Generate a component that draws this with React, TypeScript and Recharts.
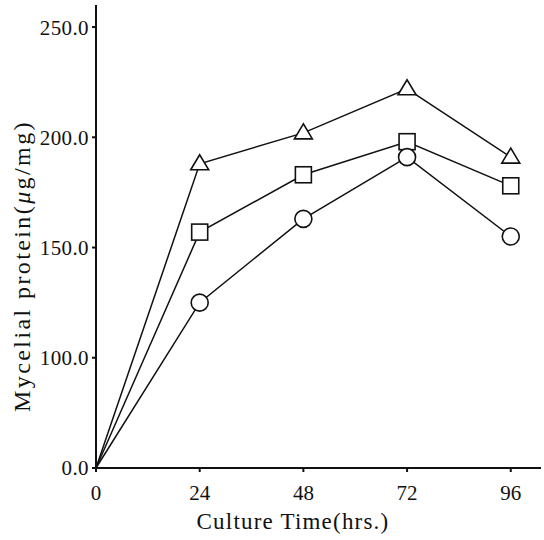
import { LineChart, Line, XAxis, YAxis, Label } from 'recharts';

const hours = [0, 24, 48, 72, 96];
const triangleSeries = [0, 188, 202, 222, 191];
const squareSeries = [0, 157, 183, 198, 178];
const circleSeries = [0, 125, 163, 191, 155];
const yTickValues = [0, 100, 150, 200, 250];
const xTickValues = [0, 24, 48, 72, 96];

// broken y axis: 0-100 gets the same height as each 50 step above it
const toAxis = (v: number) => (v <= 100 ? v / 2 : v - 50);
const fromAxis = (a: number) => (a <= 50 ? a * 2 : a + 50);

const data = hours.map((h, i) => ({
  h,
  tri: toAxis(triangleSeries[i]),
  sq: toAxis(squareSeries[i]),
  circ: toAxis(circleSeries[i]),
}));

const FONT = '"Liberation Serif", "Times New Roman", serif';
const INK = '#111';

const TriangleDot = (p: any) => {
  const { cx, cy, index } = p;
  if (index === 0) return <g key={`t${index}`} />;
  return (
    <polygon
      key={`t${index}`}
      points={`${cx},${cy - 9} ${cx - 9},${cy + 6} ${cx + 9},${cy + 6}`}
      fill="#fff"
      stroke={INK}
      strokeWidth={1.6}
    />
  );
};

const SquareDot = (p: any) => {
  const { cx, cy, index } = p;
  if (index === 0) return <g key={`s${index}`} />;
  return (
    <rect
      key={`s${index}`}
      x={cx - 8}
      y={cy - 8}
      width={16}
      height={16}
      fill="#fff"
      stroke={INK}
      strokeWidth={1.6}
    />
  );
};

const CircleDot = (p: any) => {
  const { cx, cy, index } = p;
  if (index === 0) return <g key={`c${index}`} />;
  return <circle key={`c${index}`} cx={cx} cy={cy} r={8.5} fill="#fff" stroke={INK} strokeWidth={1.6} />;
};

export default function App() {
  return (
    <div style={{ position: 'absolute', left: 0, top: 0, background: '#fff' }}>
      <LineChart width={544} height={540} data={data} margin={{ top: 5, right: 3, left: 0, bottom: 0 }}>
        <XAxis
          dataKey="h"
          type="number"
          domain={[0, 103]}
          ticks={xTickValues}
          height={72}
          stroke={INK}
          strokeWidth={2}
          tickSize={4}
          tick={{ fill: INK, fontFamily: FONT, fontSize: 21 }}
          tickMargin={13}
        >
          <Label
            content={() => (
              <text
                x={293}
                y={529}
                textAnchor="middle"
                fill={INK}
                fontFamily={FONT}
                fontSize={23}
                letterSpacing={1.2}
              >
                Culture Time(hrs.)
              </text>
            )}
          />
        </XAxis>
        <YAxis
          type="number"
          domain={[0, 210]}
          ticks={yTickValues.map(toAxis)}
          tickFormatter={(a: number) => fromAxis(a).toFixed(1)}
          width={96}
          stroke={INK}
          strokeWidth={2}
          tickSize={4}
          tickMargin={3}
          tick={{ fill: INK, fontFamily: FONT, fontSize: 21, letterSpacing: 0.4 }}
        >
          <Label
            content={() => (
              <text
                x={0}
                y={0}
                transform="translate(30 266) rotate(-90)"
                textAnchor="middle"
                fill={INK}
                fontFamily={FONT}
                fontSize={24}
                letterSpacing={2.4}
              >
                Mycelial protein(<tspan fontStyle="italic">μ</tspan>g/mg)
              </text>
            )}
          />
        </YAxis>
        <Line dataKey="tri" stroke={INK} strokeWidth={1.5} dot={TriangleDot} isAnimationActive={false} />
        <Line dataKey="sq" stroke={INK} strokeWidth={1.5} dot={SquareDot} isAnimationActive={false} />
        <Line dataKey="circ" stroke={INK} strokeWidth={1.5} dot={CircleDot} isAnimationActive={false} />
      </LineChart>
    </div>
  );
}
